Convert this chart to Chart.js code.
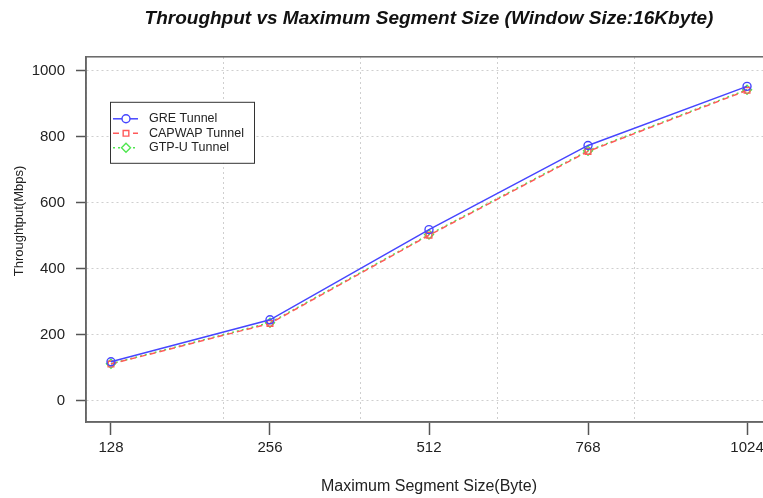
<!DOCTYPE html>
<html>
<head>
<meta charset="utf-8">
<script src="https://cdn.jsdelivr.net/npm/chart.js@4.4.1/dist/chart.umd.min.js"></script>
<style>
  html, body { margin: 0; padding: 0; background: #fff; overflow: hidden; }
  #wrap { width: 800px; height: 498px; }
</style>
</head>
<body>
<div id="wrap"><canvas id="tputChart" width="800" height="498"></canvas></div>
<script>
// values
const xLabels = ['128', '256', '512', '768', '1024'];
const greTunnel = [118, 245, 518, 773, 952];
const capwapTunnel = [111, 234, 501, 755, 940];
const gtpuTunnel = [112, 236, 503, 757, 942];
const yTicks = [0, 200, 400, 600, 800, 1000];

const FONT = "'Liberation Sans', Arial, Helvetica, sans-serif";

function toPoints(values) {
    return values.map((v, i) => ({x: i + 1, y: v}));
}

// box round the plot + y title + legend, R style
const extras = {
    id: 'extras',
    afterDraw(chart) {
        const ctx = chart.ctx;
        const a = chart.chartArea;
        ctx.save();
        ctx.strokeStyle = '#666';
        ctx.lineWidth = 1.5;
        ctx.strokeRect(a.left, a.top, a.right - a.left, a.bottom - a.top);

        // y axis title
        ctx.fillStyle = '#222';
        ctx.font = '13px ' + FONT;
        ctx.textAlign = 'center';
        ctx.textBaseline = 'middle';
        ctx.translate(19, 221);
        ctx.rotate(-Math.PI / 2);
        ctx.fillText('Throughtput(Mbps)', 0, 0);
        ctx.restore();

        // legend
        ctx.save();
        const lx = a.left + 24, ly = a.top + 45;
        ctx.fillStyle = '#fff';
        ctx.fillRect(lx, ly, 144, 61);
        ctx.strokeStyle = '#333';
        ctx.lineWidth = 1;
        ctx.strokeRect(lx + 0.5, ly + 0.5, 144, 61);
        ctx.font = '12.5px ' + FONT;
        ctx.textAlign = 'left';
        ctx.textBaseline = 'middle';
        chart.data.datasets.forEach((ds, i) => {
            const y = ly + 17 + i * 14.5;
            ctx.strokeStyle = ds.borderColor;
            ctx.lineWidth = ds.borderWidth;
            ctx.setLineDash(ds.borderDash || []);
            ctx.beginPath();
            ctx.moveTo(lx + 3, y);
            ctx.lineTo(lx + 28, y);
            ctx.stroke();
            ctx.setLineDash([]);
            ctx.fillStyle = '#fff';
            ctx.lineWidth = ds.pointBorderWidth;
            Chart.helpers.drawPoint(ctx, {
                pointStyle: ds.pointStyle,
                radius: ds.pointRadius,
                borderWidth: ds.pointBorderWidth
            }, lx + 16, y);
            ctx.fillStyle = '#222';
            ctx.fillText(ds.label, lx + 39, y);
        });
        ctx.restore();
    }
};

new Chart(document.getElementById('tputChart'), {
    type: 'line',
    data: {
        datasets: [{
            label: 'GRE Tunnel',
            data: toPoints(greTunnel),
            borderColor: '#4646ff',
            backgroundColor: 'rgba(0,0,0,0)',
            borderWidth: 1.5,
            pointStyle: 'circle',
            pointRadius: 4,
            pointBorderWidth: 1.4
        }, {
            label: 'CAPWAP Tunnel',
            data: toPoints(capwapTunnel),
            borderColor: '#ff5a5a',
            backgroundColor: 'rgba(0,0,0,0)',
            borderWidth: 1.5,
            borderDash: [6, 4],
            pointStyle: 'rect',
            pointRadius: 4,
            pointBorderWidth: 1.4
        }, {
            label: 'GTP-U Tunnel',
            data: toPoints(gtpuTunnel),
            borderColor: '#50e650',
            backgroundColor: 'rgba(0,0,0,0)',
            borderWidth: 1.5,
            borderDash: [2, 3],
            pointStyle: 'rectRot',
            pointRadius: 4.5,
            pointBorderWidth: 1.4
        }]
    },
    options: {
        responsive: false,
        animation: false,
        layout: {padding: {left: 0, right: 28, top: 0, bottom: 0}},
        plugins: {
            legend: {display: false},
            tooltip: {enabled: false},
            title: {
                display: true,
                fullSize: false,
                text: 'Throughput vs Maximum Segment Size (Window Size:16Kbyte)',
                color: '#111',
                font: {family: FONT, size: 19, weight: 'bold', style: 'italic'},
                padding: {top: 7, bottom: 27}
            }
        },
        scales: {
            x: {
                type: 'linear',
                min: 0.843,
                max: 5.157,
                afterBuildTicks: s => { s.ticks = xLabels.map((l, i) => ({value: i + 1})); },
                afterFit: s => { s.height = 76; },
                ticks: {
                    autoSkip: false,
                    maxRotation: 0,
                    padding: 4,
                    color: '#222',
                    font: {family: FONT, size: 15},
                    callback: (v, i) => xLabels[i]
                },
                grid: {
                    drawOnChartArea: false,
                    tickLength: 13,
                    tickColor: '#555',
                    tickWidth: 1.5,
                    tickBorderDash: []
                },
                border: {display: true, color: '#666', width: 1.5},
                title: {
                    display: true,
                    text: 'Maximum Segment Size(Byte)',
                    color: '#222',
                    font: {family: FONT, size: 16},
                    padding: {top: 0, bottom: 2}
                }
            },
            xg: {
                type: 'linear',
                position: 'top',
                min: 0.843,
                max: 5.157,
                afterBuildTicks: s => {
                    const step = (s.max - s.min) / 5;
                    s.ticks = [0, 1, 2, 3, 4, 5].map(k => ({value: s.min + k * step}));
                },
                afterFit: s => { s.height = 0; },
                ticks: {display: false},
                grid: {
                    drawTicks: false,
                    color: '#cfcfcf',
                    lineWidth: 1
                },
                border: {display: false, dash: [2, 3]}
            },
            y: {
                type: 'linear',
                min: -64.5,
                max: 1041.5,
                afterBuildTicks: s => { s.ticks = yTicks.map(v => ({value: v})); },
                afterFit: s => { s.width = 86; },
                ticks: {
                    padding: 11,
                    color: '#222',
                    font: {family: FONT, size: 15},
                    callback: v => String(v)
                },
                grid: {
                    color: '#cfcfcf',
                    lineWidth: 1,
                    tickLength: 10,
                    tickColor: '#555',
                    tickWidth: 1.5,
                    tickBorderDash: []
                },
                border: {display: true, color: '#666', width: 1.5, dash: [2, 3]}
            }
        }
    },
    plugins: [extras]
});
</script>
</body>
</html>
